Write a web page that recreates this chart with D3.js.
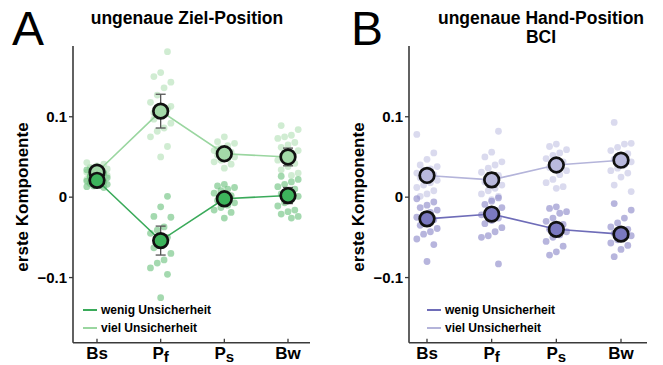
<!DOCTYPE html>
<html>
<head>
<meta charset="utf-8">
<script src="https://cdn.jsdelivr.net/npm/d3@7"></script>
<style>
  body { margin: 0; background: #fff; }
  text { font-family: "Liberation Sans", Arial, sans-serif; }
</style>
</head>
<body>
<svg id="chart" width="663" height="365"></svg>
<script>
const categories = ['Bs', 'Pf', 'Ps', 'Bw'];
const yTicks = [0.1, 0, -0.1];

// panel A: ungenaue Ziel-Position
const aMeanWenig = [0.021, -0.054, -0.002, 0.002];
const aSeWenig = [0.004, 0.018, 0.005, 0.010];
const aMeanViel = [0.031, 0.107, 0.054, 0.050];
const aSeViel = [0.005, 0.021, 0.005, 0.011];
const aDotsWenig = [
  [0.034, 0.030, 0.028, 0.026, 0.024, 0.022, 0.021, 0.020, 0.019, 0.018, 0.017, 0.016, 0.015, 0.014, 0.013, 0.012, 0.023, 0.025],
  [0.001, -0.012, -0.024, -0.025, -0.037, -0.041, -0.045, -0.050, -0.058, -0.063, -0.070, -0.078, -0.082, -0.088, -0.096, -0.125],
  [0.016, 0.014, 0.012, 0.010, 0.008, 0.005, 0.002, -0.001, -0.004, -0.007, -0.010, -0.013, -0.016, -0.019, -0.026],
  [0.026, 0.022, 0.019, 0.016, 0.013, 0.010, 0.007, 0.004, 0.001, -0.003, -0.007, -0.011, -0.016, -0.018, -0.021, -0.024, -0.026]
];
const aDotsViel = [
  [0.043, 0.041, 0.039, 0.037, 0.035, 0.034, 0.032, 0.031, 0.030, 0.029, 0.028, 0.027, 0.025, 0.024, 0.022, 0.020, 0.033, 0.036],
  [0.181, 0.155, 0.150, 0.143, 0.136, 0.127, 0.118, 0.110, 0.102, 0.097, 0.092, 0.086, 0.082, 0.075, 0.063, 0.050, 0.105, 0.113],
  [0.075, 0.069, 0.067, 0.064, 0.061, 0.058, 0.056, 0.054, 0.052, 0.050, 0.048, 0.046, 0.044, 0.041, 0.036, 0.060],
  [0.089, 0.084, 0.077, 0.075, 0.073, 0.068, 0.065, 0.062, 0.058, 0.055, 0.050, 0.046, 0.042, 0.038, 0.034, 0.030, 0.027]
];

// panel B: ungenaue Hand-Position BCI
const bMeanWenig = [-0.027, -0.021, -0.040, -0.046];
const bSeWenig = [0.006, 0.008, 0.007, 0.006];
const bMeanViel = [0.027, 0.0215, 0.040, 0.046];
const bSeViel = [0.006, 0.009, 0.007, 0.006];
const bDotsWenig = [
  [-0.002, -0.006, -0.010, -0.013, -0.016, -0.019, -0.022, -0.025, -0.028, -0.031, -0.035, -0.039, -0.043, -0.046, -0.052, -0.059, -0.080],
  [-0.001, -0.005, -0.009, -0.013, -0.016, -0.019, -0.022, -0.026, -0.029, -0.033, -0.038, -0.043, -0.048, -0.050, -0.083],
  [-0.012, -0.014, -0.018, -0.020, -0.026, -0.030, -0.034, -0.037, -0.040, -0.043, -0.047, -0.050, -0.055, -0.061, -0.068, -0.072],
  [-0.008, -0.016, -0.026, -0.032, -0.037, -0.040, -0.043, -0.045, -0.048, -0.050, -0.053, -0.057, -0.060, -0.065, -0.074]
];
const bDotsViel = [
  [0.078, 0.055, 0.047, 0.040, 0.038, 0.035, 0.033, 0.030, 0.028, 0.026, 0.024, 0.021, 0.018, 0.015, 0.012, 0.008, 0.004, 0.001],
  [0.082, 0.056, 0.050, 0.044, 0.040, 0.036, 0.031, 0.027, 0.023, 0.019, 0.015, 0.011, 0.008, 0.004, 0.001, -0.003],
  [0.066, 0.063, 0.059, 0.055, 0.052, 0.048, 0.044, 0.041, 0.037, 0.033, 0.028, 0.022, 0.018, 0.013, 0.011],
  [0.093, 0.067, 0.066, 0.062, 0.058, 0.054, 0.050, 0.047, 0.044, 0.040, 0.036, 0.033, 0.030, 0.025, 0.015, 0.007]
];

const svg = d3.select('#chart');
const y = d3.scaleLinear().domain([-0.181, 0.188]).range([342.7, 46]);

function panel(opt) {
  const g = svg.append('g');
  const x = d3.scalePoint().domain(categories).range(opt.xRange);
  const jitter = i => ((i * 5) % 7 - 3) * 3.4;

  // individual points
  [[opt.dotsViel, opt.dotViel], [opt.dotsWenig, opt.dotWenig]].forEach(([sets, col]) => {
    sets.forEach((vals, ci) => {
      g.append('g').selectAll('circle').data(vals).enter().append('circle')
        .attr('cx', (d, i) => x(categories[ci]) + jitter(i + ci))
        .attr('cy', d => y(d))
        .attr('r', 3.4)
        .attr('fill', col)
        .attr('fill-opacity', 0.62);
    });
  });

  // axes
  const axisCol = '#3a3a3a';
  g.append('line').attr('x1', opt.axisX).attr('x2', opt.axisX)
    .attr('y1', y.range()[1]).attr('y2', y.range()[0])
    .attr('stroke', axisCol).attr('stroke-width', 1.6);
  g.append('line').attr('x1', opt.axisX).attr('x2', opt.axisEnd)
    .attr('y1', y.range()[0]).attr('y2', y.range()[0])
    .attr('stroke', axisCol).attr('stroke-width', 1.6);
  yTicks.forEach(t => {
    g.append('line').attr('x1', opt.axisX - 4).attr('x2', opt.axisX)
      .attr('y1', y(t)).attr('y2', y(t)).attr('stroke', axisCol).attr('stroke-width', 1.3);
    g.append('text').attr('x', opt.axisX - 6).attr('y', y(t) + 5)
      .attr('text-anchor', 'end').attr('font-size', 15).attr('font-weight', 'bold')
      .text(t === 0 ? '0' : d3.format('.1f')(t));
  });
  categories.forEach(c => {
    g.append('line').attr('x1', x(c)).attr('x2', x(c))
      .attr('y1', y.range()[0]).attr('y2', y.range()[0] - 4)
      .attr('stroke', axisCol).attr('stroke-width', 1.3);
    const t = g.append('text').attr('x', x(c)).attr('y', 359)
      .attr('text-anchor', 'middle').attr('font-size', 17).attr('font-weight', 'bold');
    if (c === 'Pf' || c === 'Ps') {
      t.append('tspan').text('P');
      t.append('tspan').attr('dy', 3).attr('font-size', 15).text(c[1]);
    } else {
      t.text(c);
    }
  });

  // y label
  g.append('text')
    .attr('transform', `translate(${opt.labelX},197) rotate(-90)`)
    .attr('text-anchor', 'middle').attr('font-size', 17).attr('font-weight', 'bold')
    .text('erste Komponente');

  // mean lines, error bars, mean markers
  const line = d3.line().x((d, i) => x(categories[i])).y(d => y(d));
  [[opt.meanViel, opt.seViel, opt.lineViel, opt.fillViel],
   [opt.meanWenig, opt.seWenig, opt.lineWenig, opt.fillWenig]].forEach(([m, se, lc, fc]) => {
    g.append('path').datum(m).attr('d', line)
      .attr('fill', 'none').attr('stroke', lc).attr('stroke-width', 1.6);
    m.forEach((v, i) => {
      const cx = x(categories[i]);
      const eb = g.append('g').attr('stroke', '#555').attr('stroke-width', 1.3);
      eb.append('line').attr('x1', cx).attr('x2', cx).attr('y1', y(v + se[i])).attr('y2', y(v - se[i]));
      [v + se[i], v - se[i]].forEach(e => {
        eb.append('line').attr('x1', cx - 5).attr('x2', cx + 5).attr('y1', y(e)).attr('y2', y(e));
      });
    });
    g.append('g').selectAll('circle').data(m).enter().append('circle')
      .attr('cx', (d, i) => x(categories[i])).attr('cy', d => y(d))
      .attr('r', 7.3).attr('fill', fc).attr('stroke', '#111').attr('stroke-width', 2.7);
  });

  // legend
  [['wenig Unsicherheit', opt.lineWenig, 310], ['viel Unsicherheit', opt.lineViel, 328]].forEach(([lab, col, ly]) => {
    g.append('line').attr('x1', opt.legendX).attr('x2', opt.legendX + 14)
      .attr('y1', ly).attr('y2', ly).attr('stroke', col).attr('stroke-width', 2);
    g.append('text').attr('x', opt.legendX + 18).attr('y', ly + 4)
      .attr('font-size', 12).attr('font-weight', 'bold').text(lab);
  });

  // panel letter & title
  svg.append('text').attr('x', opt.letterX).attr('y', 45)
    .attr('font-size', 48).text(opt.letter);
  opt.title.forEach((t, i) => {
    svg.append('text').attr('x', opt.titleX).attr('y', 24 + i * 18.5)
      .attr('text-anchor', 'middle').attr('font-size', 17.5).attr('font-weight', 'bold').text(t);
  });
}

panel({
  letter: 'A', letterX: 12, title: ['ungenaue Ziel-Position'], titleX: 187,
  xRange: [97, 288], axisX: 73, axisEnd: 310, labelX: 28, legendX: 83,
  meanWenig: aMeanWenig, seWenig: aSeWenig, meanViel: aMeanViel, seViel: aSeViel,
  dotsWenig: aDotsWenig, dotsViel: aDotsViel,
  dotWenig: '#6cc27e', dotViel: '#b3e0b6',
  lineWenig: '#3aaa5a', lineViel: '#9ad6a0',
  fillWenig: '#3db45c', fillViel: '#a3d9a8'
});

panel({
  letter: 'B', letterX: 351, title: ['ungenaue Hand-Position', 'BCI'], titleX: 541,
  xRange: [427, 621], axisX: 409, axisEnd: 647, labelX: 364, legendX: 427,
  meanWenig: bMeanWenig, seWenig: bSeWenig, meanViel: bMeanViel, seViel: bSeViel,
  dotsWenig: bDotsWenig, dotsViel: bDotsViel,
  dotWenig: '#8a88c8', dotViel: '#c4c4e4',
  lineWenig: '#6e6cb8', lineViel: '#b4b4da',
  fillWenig: '#7b79c0', fillViel: '#b9b9dd'
});
</script>
</body>
</html>
